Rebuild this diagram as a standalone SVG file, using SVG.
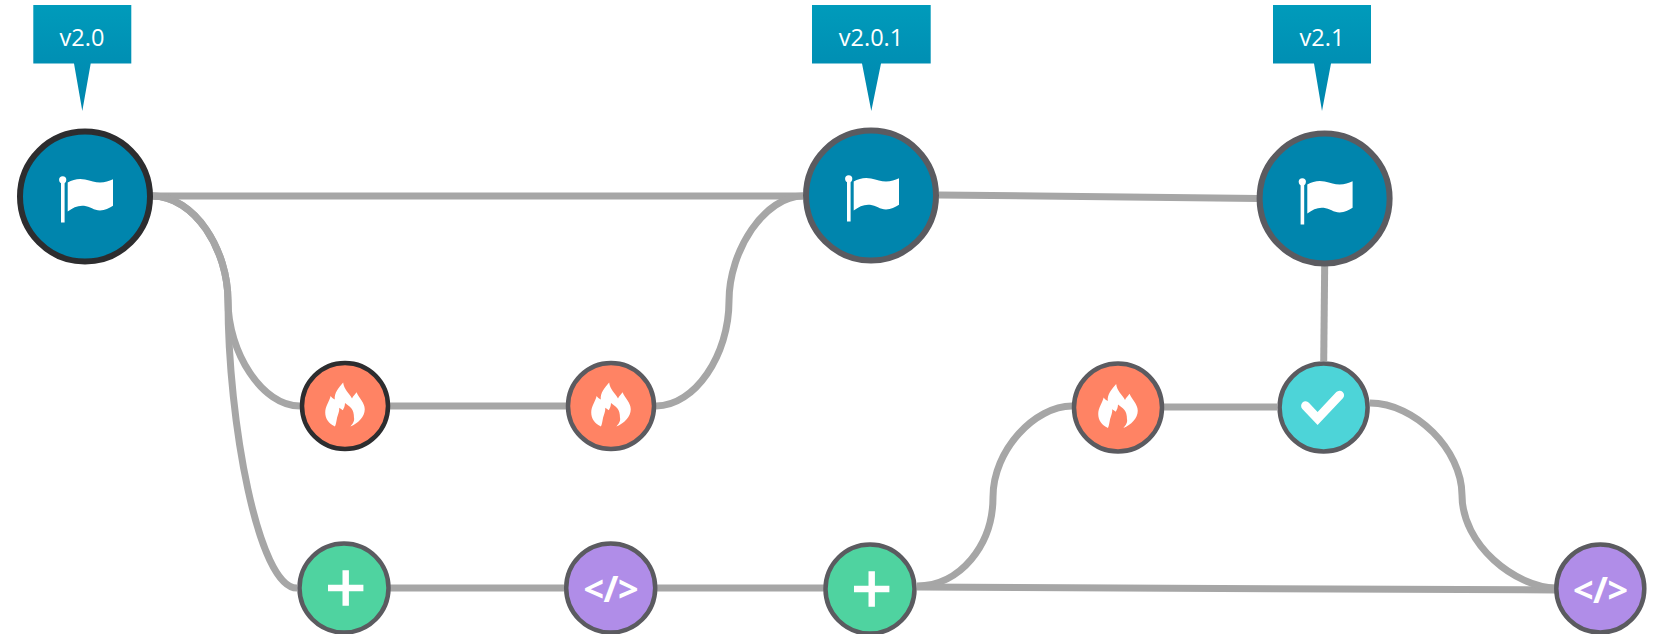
<svg xmlns="http://www.w3.org/2000/svg" width="1655" height="634" viewBox="0 0 1655 634">
<style>
.big{stroke:#5b5b60;stroke-width:6}
.small{stroke:#5b5b60;stroke-width:4.5}
.dark{stroke:#2d2d2f}
.rel{fill:#0085ad}.fix{fill:#ff8364}.feat{fill:#4fd3a0}.dev{fill:#b08de8}.qa{fill:#4dd4d8}
.ico{fill:#fff}
.tag{fill:url(#tg)}
.tagt{font:23.500px "Open Sans","Liberation Sans",sans-serif;fill:#fff;text-anchor:middle}
.code{font:bold 36px "Open Sans","Liberation Sans",sans-serif;letter-spacing:-.5px;fill:#fff;text-anchor:middle}
#connectors path{fill:none;stroke:#a6a6a6;stroke-width:7}
</style>
<defs>
<linearGradient id="tg" x1="0" y1="0" x2="0" y2="1"><stop offset="0" stop-color="#009bbb"/><stop offset="1" stop-color="#0085ad"/></linearGradient>
<g id="flag" class="ico">
<rect x="-24" y="-17" width="3.600" height="43"/><circle cx="-22.300" cy="-16.700" r="3.600"/>
<path d="M-17.300-14C-12-17-6-18.500 0-17C6-15.500 10-14 15-14C20-14 24-15.500 28-17.300V9.300C24 11.500 20 14 15 14C9 14 5 10-1 9.300C-7 8.700-12 11-17.300 15Z"/>
</g>
<path id="fire" class="ico" transform="scale(1.08)" d="M-9.300 19C-15 16-18.300 12-18.300 6C-18.300 0-14.500-4-13.300-9.300C-12.500-8-11-7-9.500-6C-10-12-6-17-1.700-21.700C-1-15 4-12 6.500-7C7.500-9 9-10.500 10.700-12.700C13-7 18.300-3 18.300 3C18.300 10 12 16 5 19C7.500 16 9 14 8.300 10.700C8.300 7 7.500 4 6 2.300C4 0 2-1 0-2.700C0 0-1 2-2 4L-5.300 1.700C-5 5-6.500 8-7.300 10.700C-8 14-8 16-9.300 19Z"/>
<path id="plus" class="ico" d="M-3.200-17.700H3.200V-3.200H17.700V3.200H3.200V17.700H-3.200V3.200H-17.700V-3.200H-3.200Z"/>
</defs>
<g id="connectors">
<path d="M152 196H803"/>
<path d="M939 195L1259 198.500"/>
<path d="M152 196C195 196 228 250 228 301C228 352 262 406 300 406"/>
<path d="M152 196C195 196 228 250 228 301C228 420 258 588 297 588"/>
<path d="M390 406H566"/>
<path d="M656 406C695 406 729 355 729 301C729 250 765 196 803 196"/>
<path d="M390 588H564"/>
<path d="M657 588H824"/>
<path d="M917 586C960 586 993 545 993 497C993 450 1035 406 1072 406"/>
<path d="M917 587L1555 590"/>
<path d="M1164 407H1277"/>
<path d="M1324.700 264L1323.700 361"/>
<path d="M1370 403C1415 403 1462 450 1462 495C1462 545 1515 587 1556 588"/>
</g>
<g id="tag-v2-0"><path class="tag" d="M33.300 5H131.300V63.500H90.700L82.300 111L74 63.500H33.300Z"/><text class="tagt" x="82" y="46">v2.0</text></g>
<g id="tag-v2-0-1"><path class="tag" d="M812 5H930.700V63.500H881L871.300 111L862 63.500H812Z"/><text class="tagt" x="871" y="46">v2.0.1</text></g>
<g id="tag-v2-1"><path class="tag" d="M1273 5H1371V63.500H1331L1322 111L1314 63.500H1273Z"/><text class="tagt" x="1322" y="46">v2.1</text></g>
<g id="node-release-1" transform="translate(85 196.500)"><circle r="65" class="rel big dark"/><use href="#flag"/></g>
<g id="node-release-2" transform="translate(871 195.500)"><circle r="65" class="rel big"/><use href="#flag"/></g>
<g id="node-release-3" transform="translate(1324.600 198.500)"><circle r="65" class="rel big"/><use href="#flag"/></g>
<g id="node-fix-1" transform="translate(345 406)"><circle r="43" class="fix small dark"/><use href="#fire"/></g>
<g id="node-fix-2" transform="translate(611 406)"><circle r="43" class="fix small"/><use href="#fire"/></g>
<g id="node-fix-3" transform="translate(1118 407.500)"><circle r="44" class="fix small"/><use href="#fire"/></g>
<g id="node-qa" transform="translate(1323.600 407.500)"><circle r="44" class="qa small"/><path d="M-18-1.700L-6 11L16-12.300" fill="none" stroke="#fff" stroke-width="9" stroke-linecap="round"/></g>
<g id="node-feature-1" transform="translate(344 588)"><circle r="44.500" class="feat small"/><use href="#plus" x="1.700"/></g>
<g id="node-dev-1" transform="translate(610.700 588)"><circle r="44.500" class="dev small"/><text class="code" y="14">&lt;/&gt;</text></g>
<g id="node-feature-2" transform="translate(870 589)"><circle r="44.500" class="feat small"/><use href="#plus" x="1.700"/></g>
<g id="node-dev-2" transform="translate(1600.300 588.500)"><circle r="44" class="dev small"/><text class="code" y="14">&lt;/&gt;</text></g>
</svg>
